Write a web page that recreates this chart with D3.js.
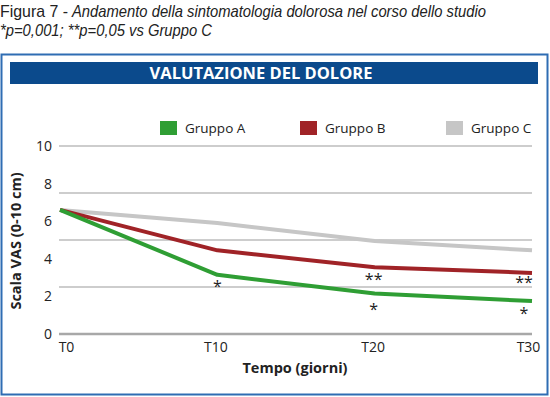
<!DOCTYPE html>
<html><head><meta charset="utf-8">
<script src="https://cdn.jsdelivr.net/npm/d3@7"></script>
<style>body{margin:0;background:#fff}svg{display:block}</style>
</head><body>
<script>
const timepoints = ["T0","T10","T20","T30"];
const groupA = [6.6, 3.15, 2.15, 1.75];
const groupB = [6.6, 4.45, 3.55, 3.25];
const groupC = [6.6, 5.9, 4.95, 4.45];
const seriesNames = ["Gruppo A","Gruppo B","Gruppo C"];
const seriesColors = ["#2f9e34","#a02327","#c6c6c6"];
const yTicks = [0,2,4,6,8,10];
const gridVals = [0,2.5,5,7.5,10];
// significance markers: [timepoint, value position, label]
const markers = [
  ["T10", 2.65, "*"],
  ["T20", 3.05, "**"],
  ["T20", 1.45, "*"],
  ["T30", 2.85, "**"],
  ["T30", 1.2, "*"]
];

const W=550,H=397;
const svg=d3.select("body").append("svg").attr("width",W).attr("height",H);

// heading text
const hfont="'Liberation Sans',Arial,sans-serif";
svg.append("text").attr("x",0).attr("y",17)
  .attr("textLength",68).attr("lengthAdjust","spacingAndGlyphs")
  .style("font-family",hfont).style("font-size","17px").attr("fill","#222")
  .text("Figura 7 -");
svg.append("text").attr("x",72).attr("y",17)
  .attr("textLength",414).attr("lengthAdjust","spacingAndGlyphs")
  .style("font-family",hfont).style("font-size","17px").style("font-style","italic").attr("fill","#222")
  .text("Andamento della sintomatologia dolorosa nel corso dello studio");
svg.append("text").attr("x",0).attr("y",36)
  .attr("textLength",212).attr("lengthAdjust","spacingAndGlyphs")
  .style("font-family",hfont).style("font-size","17px").style("font-style","italic").attr("fill","#222")
  .text("*p=0,001; **p=0,05 vs Gruppo C");

// frame
svg.append("rect").attr("x",1.5).attr("y",54.5).attr("width",546).attr("height",340)
  .attr("fill","none").attr("stroke","#2f6db3").attr("stroke-width",2);
svg.append("rect").attr("x",10).attr("y",62).attr("width",528).attr("height",22).attr("fill","#0b4a8c");
svg.append("text").attr("x",261).attr("y",79).attr("text-anchor","middle")
  .style("font-family","'Open Sans',sans-serif").style("font-weight","bold").style("font-size","16.5px")
  .attr("fill","#fff").text("VALUTAZIONE DEL DOLORE");

const font="'Open Sans','Noto Sans',sans-serif";
const x=d3.scalePoint().domain(timepoints).range([60,532]);
const y=d3.scaleLinear().domain([0,10]).range([334,146]);

// grid
svg.append("g").selectAll("line").data(gridVals).join("line")
  .attr("x1",59).attr("x2",532).attr("y1",d=>y(d)).attr("y2",d=>y(d))
  .attr("stroke",d=>d===0?"#a8a8a8":"#bdbdbd").attr("stroke-width",d=>d===0?2.5:1.5);

// y axis labels
const ya=svg.append("g").attr("transform","translate(58,0)")
  .call(d3.axisLeft(y).tickValues(yTicks).tickSize(0).tickPadding(6));
ya.select(".domain").remove();
ya.selectAll("text").style("font-family",font).style("font-size","14px").attr("fill","#222");

// x axis labels
const xa=svg.append("g").attr("transform","translate(0,340)")
  .call(d3.axisBottom(x).tickSize(0).tickPadding(2));
xa.select(".domain").remove();
xa.selectAll("text").style("font-family",font).style("font-size","14px").attr("fill","#222")
  .attr("dx",(d,i)=>[6,-2,-2,-4][i]);

// axis titles
svg.append("text").attr("transform","translate(21,241) rotate(-90)").attr("text-anchor","middle")
  .style("font-family",font).style("font-weight","bold").style("font-size","14.5px").attr("fill","#222")
  .text("Scala VAS (0-10 cm)");
svg.append("text").attr("x",295).attr("y",373).attr("text-anchor","middle")
  .style("font-family",font).style("font-weight","bold").style("font-size","14.5px").attr("fill","#222")
  .text("Tempo (giorni)");

// lines
const data=[groupA,groupB,groupC];
const line=d3.line().x((d,i)=>x(timepoints[i])).y(d=>y(d));
[2,1,0].forEach(k=>{
  svg.append("path").datum(data[k]).attr("d",line).attr("fill","none")
    .attr("stroke",seriesColors[k]).attr("stroke-width",4).attr("stroke-linejoin","round");
});

// markers
svg.append("g").selectAll("text").data(markers).join("text")
  .attr("x",d=>x(d[0])-(d[0]==="T30"?8:0)+(d[0]==="T20"?-1:0)).attr("y",d=>y(d[1])+8)
  .attr("text-anchor","middle").style("font-family",font).style("font-size","16px").attr("fill","#222")
  .text(d=>d[2]);

// legend
const legX=[160,300,446];
const lg=svg.append("g").selectAll("g").data(seriesNames).join("g")
  .attr("transform",(d,i)=>`translate(${legX[i]},121)`);
lg.append("rect").attr("width",17).attr("height",14).attr("fill",(d,i)=>seriesColors[i]);
lg.append("text").attr("x",25).attr("y",12).style("font-family",font).style("font-size","13.5px")
  .attr("fill","#222").text(d=>d);
</script>
</body></html>
